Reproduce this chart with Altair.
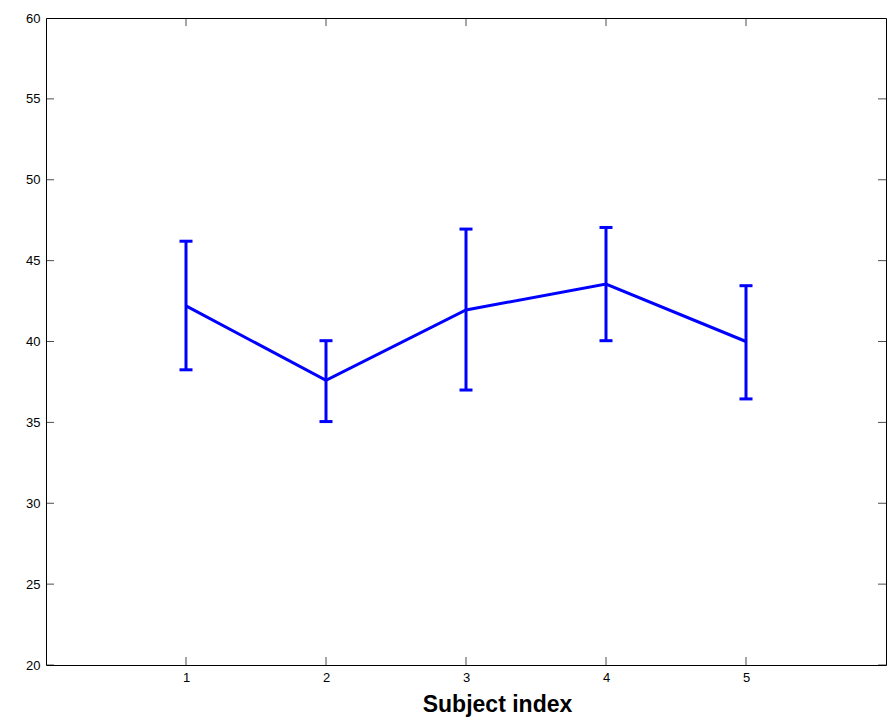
import altair as alt
import pandas as pd

subjects = [1, 2, 3, 4, 5]
means = [42.2, 37.6, 41.95, 43.55, 40.0]
lows = [38.25, 35.05, 37.0, 40.05, 36.45]
highs = [46.2, 40.05, 46.95, 47.05, 43.45]

x_ticks = [1, 2, 3, 4, 5]
y_ticks = [20, 25, 30, 35, 40, 45, 50, 55, 60]

df = pd.DataFrame({"subject": subjects, "mean": means, "lo": lows, "hi": highs})
xt = pd.DataFrame({"v": x_ticks})
yt = pd.DataFrame({"v": y_ticks})

FONT = "Liberation Sans"
BLUE = "#0000ff"

xscale = alt.Scale(domain=[0, 6], nice=False, zero=False)
yscale = alt.Scale(domain=[20, 60], nice=False, zero=False)

x_enc = alt.X(
    "subject:Q",
    scale=xscale,
    axis=alt.Axis(
        values=x_ticks, format="d", ticks=False, domain=False, grid=False,
        labelFont=FONT, labelFontSize=13, labelColor="black", labelPadding=6,
        title="Subject index", titleFont=FONT, titleFontSize=23, titleFontWeight="bold",
        titleColor="black", titleX=451, titleY=46, titleBaseline="alphabetic",
        titleAnchor="start", titleAlign="center",
    ),
)
y_enc = alt.Y(
    "mean:Q",
    scale=yscale,
    axis=alt.Axis(
        values=y_ticks, format="d", ticks=False, domain=False, grid=False,
        labelFont=FONT, labelFontSize=13, labelColor="black", labelPadding=6,
        title=None,
    ),
)

line = alt.Chart(df).mark_line(color=BLUE, strokeWidth=3).encode(x=x_enc, y=y_enc)
bars = alt.Chart(df).mark_rule(color=BLUE, strokeWidth=3).encode(
    x=alt.X("subject:Q", scale=xscale), y=alt.Y("lo:Q", scale=yscale), y2="hi:Q"
)
cap_hi = alt.Chart(df).mark_tick(color=BLUE, orient="horizontal", size=13, thickness=3, opacity=1).encode(
    x=alt.X("subject:Q", scale=xscale), y=alt.Y("hi:Q", scale=yscale)
)
cap_lo = alt.Chart(df).mark_tick(color=BLUE, orient="horizontal", size=13, thickness=3, opacity=1).encode(
    x=alt.X("subject:Q", scale=xscale), y=alt.Y("lo:Q", scale=yscale)
)

def ytick(xpos):
    return alt.Chart(yt).mark_tick(color="black", orient="horizontal", size=16, thickness=1, clip=True).encode(
        y=alt.Y("v:Q", scale=yscale), x=alt.X("xp:Q", scale=xscale)
    ).transform_calculate(xp=str(xpos))

def xtick(ypos):
    return alt.Chart(xt).mark_tick(color="black", orient="vertical", size=16, thickness=1, clip=True).encode(
        x=alt.X("v:Q", scale=xscale), y=alt.Y("yp:Q", scale=yscale)
    ).transform_calculate(yp=str(ypos))

chart = alt.layer(
    ytick(0), ytick(6), xtick(20), xtick(60),
    line, bars, cap_hi, cap_lo,
).properties(
    width=840, height=647,
    padding={"left": 46, "top": 18, "right": 7, "bottom": 54},
    autosize=alt.AutoSizeParams(type="none"),
    background="white",
).configure_view(
    stroke="black", strokeWidth=1
)

chart.save("out.html", embed_options={"renderer": "svg", "actions": False})
